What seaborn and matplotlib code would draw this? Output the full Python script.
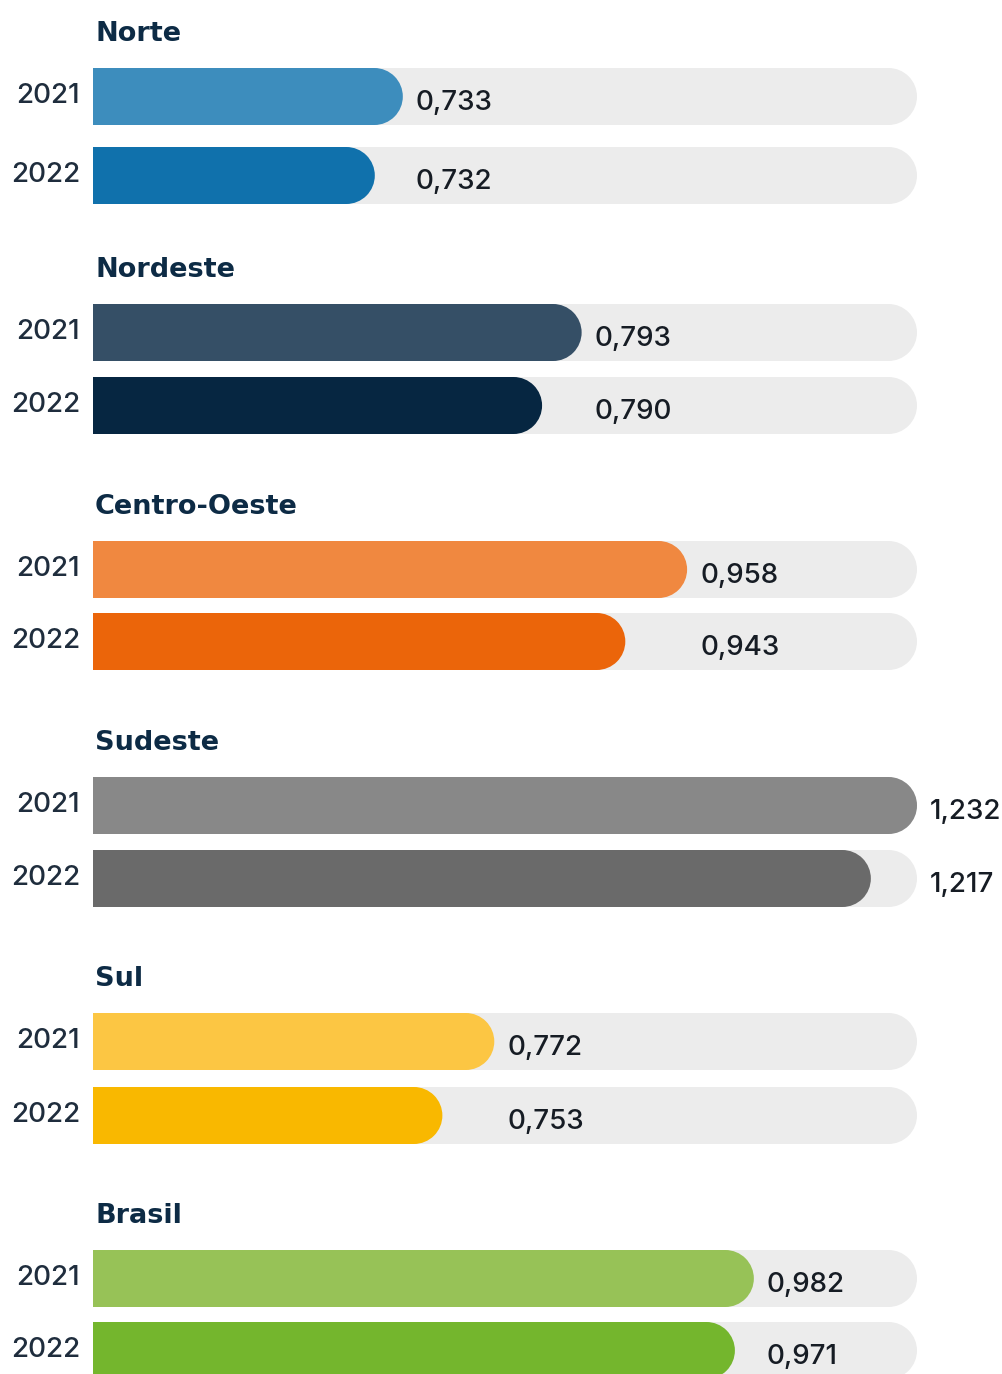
import matplotlib
matplotlib.use("Agg")
import matplotlib.pyplot as plt
from matplotlib.patches import Ellipse
import seaborn as sns
import pandas as pd

# ---- data ----
regions = ["Norte", "Nordeste", "Centro-Oeste", "Sudeste", "Sul", "Brasil"]
years = ["2021", "2022"]
values_2021 = [0.733, 0.793, 0.958, 1.232, 0.772, 0.982]
values_2022 = [0.732, 0.790, 0.943, 1.217, 0.753, 0.971]
# displayed bar fill (share of the grey track)
fill_2021 = [0.376, 0.593, 0.721, 1.000, 0.487, 0.802]
fill_2022 = [0.342, 0.545, 0.646, 0.944, 0.424, 0.779]
colors_2021 = ["#3d8dbd", "#354f66", "#f08840", "#888888", "#fcc643", "#97c257"]
colors_2022 = ["#1071ac", "#062641", "#eb650a", "#6a6a6a", "#f9b800", "#74b62d"]

# ---- layout (pixels) ----
W, H = 1002, 1374
left_px, track_px = 93, 824
group_top = [68, 304, 541, 777, 1013, 1250]
pitch = [79, 73, 72, 73, 74, 72]
bar_px = 57
track_color = "#ececec"
title_color = "#0d2b45"
year_color = "#1f2d3d"
value_color = "#161c24"
num_font = ["Inter", "DejaVu Sans"]


def fmt(v):
    return f"{v:.3f}".replace(".", ",")


def round_right_ends(ax, patches, rx, z):
    for patch in patches:
        x0, y0 = patch.get_x(), patch.get_y()
        pw, ph = patch.get_width(), patch.get_height()
        fc = patch.get_facecolor()
        patch.set_width(pw - rx)
        patch.set_linewidth(0)
        patch.set_zorder(z)
        e = Ellipse((x0 + pw - rx, y0 + ph / 2), 2 * rx, abs(ph),
                    facecolor=fc, edgecolor="none", linewidth=0, zorder=z)
        ax.add_patch(e)


sns.set_theme(style="white")
plt.rcParams["font.family"] = ["DejaVu Sans"]

fig = plt.figure(figsize=(W / 100, H / 100), dpi=100)

for i, region in enumerate(regions):
    p = pitch[i]
    h_px = p + bar_px
    top = group_top[i]
    ax = fig.add_axes([left_px / W, 1 - (top + h_px) / H, track_px / W, h_px / H])
    df = pd.DataFrame({
        "ano": years,
        "fill": [fill_2021[i], fill_2022[i]],
        "track": [1.0, 1.0],
    })
    w = bar_px / p
    rx = (bar_px / 2) / track_px
    sns.barplot(data=df, y="ano", x="track", orient="h", color=track_color,
                width=w, ax=ax, saturation=1)
    round_right_ends(ax, list(ax.patches), rx, 1)
    n_before = len(ax.patches)
    sns.barplot(data=df, y="ano", x="fill", orient="h", hue="ano",
                palette=[colors_2021[i], colors_2022[i]], legend=False,
                width=w, ax=ax, saturation=1)
    round_right_ends(ax, list(ax.patches)[n_before:], rx, 2)
    ax.set_xlim(0, 1)
    ax.set_ylim(1 + w / 2, -w / 2)
    ax.set_xlabel("")
    ax.set_ylabel("")
    ax.set_xticks([])
    ax.set_yticks([])
    for s in ax.spines.values():
        s.set_visible(False)
    ax.patch.set_alpha(0)

    # title
    ax.annotate(region, xy=(0, 1), xycoords="axes fraction", xytext=(2, 27),
                textcoords="offset pixels", ha="left", va="baseline",
                fontsize=19.5, fontweight="bold", color=title_color,
                annotation_clip=False)
    # years
    for j, yr in enumerate(years):
        ax.annotate(yr, xy=(0, j), xycoords=("axes fraction", "data"),
                    xytext=(-13, -6.5), textcoords="offset pixels",
                    ha="right", va="baseline", fontsize=20, color=year_color,
                    family=num_font, fontweight="medium",
                    annotation_clip=False)
    # values
    lab_x = max(fill_2021[i], fill_2022[i])
    for j, v in enumerate([values_2021[i], values_2022[i]]):
        ax.annotate(fmt(v), xy=(lab_x, j), xycoords="data",
                    xytext=(13, -13.5), textcoords="offset pixels",
                    ha="left", va="baseline", fontsize=20, color=value_color,
                    family=num_font, fontweight="medium",
                    annotation_clip=False)

fig.savefig("out.png", dpi=100)
